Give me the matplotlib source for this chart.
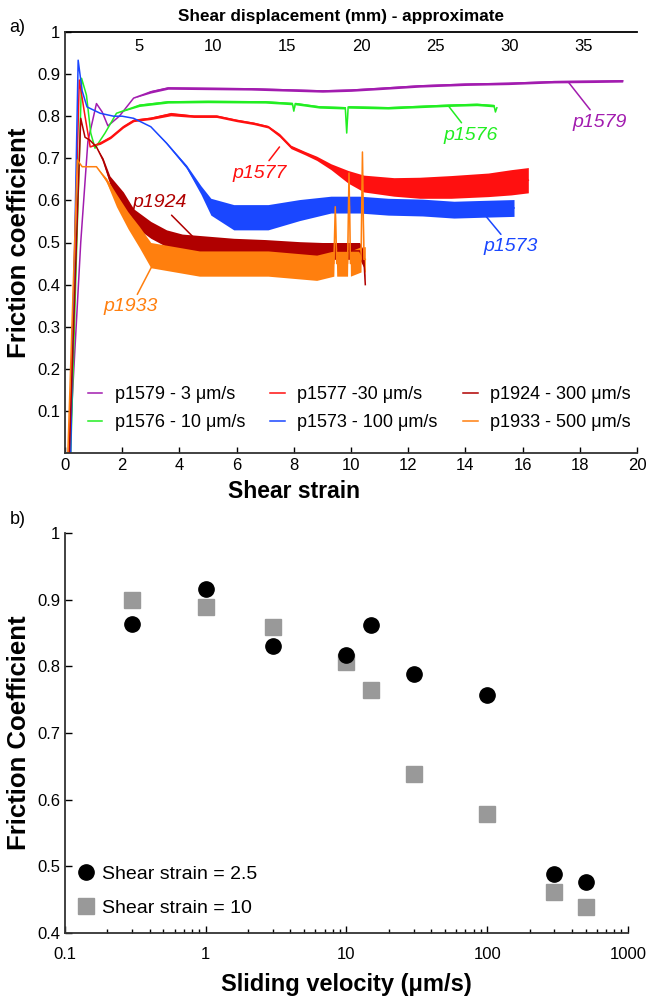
import numpy as np
import matplotlib
matplotlib.use('Agg')
import matplotlib.pyplot as plt

plt.rcParams['font.family'] = ['Liberation Sans', 'DejaVu Sans']

# ---- panel a: friction vs shear strain (x, y, noise half-width) ----
p1579_x = [0.15, 0.55, 0.8, 1.1, 1.3, 1.5, 1.9, 2.4, 3.0, 3.6, 5.0, 6.5, 8.0, 9.0, 10.0, 11.0, 12.4, 14.0, 15.5, 17.1, 18.5, 19.5]
p1579_y = [0, 0.50, 0.74, 0.83, 0.81, 0.777, 0.80, 0.843, 0.858, 0.867, 0.866, 0.865, 0.862, 0.86, 0.862, 0.866, 0.872, 0.876, 0.878, 0.882, 0.883, 0.884]
p1579_s = [0, 0, 0, 0, 0, 0, 0, 0, 0.003, 0.003, 0.003, 0.003, 0.003, 0.003, 0.003, 0.003, 0.003, 0.003, 0.003, 0.003, 0.003, 0.003]

p1576_x = [0.2, 0.58, 0.75, 0.9, 1.05, 1.4, 1.8, 2.6, 3.6, 5.0, 7.0, 7.95, 8.0, 8.05, 8.9, 9.8, 9.85, 9.9, 11.3, 13.4, 14.4, 15.0, 15.05, 15.1]
p1576_y = [0, 0.89, 0.85, 0.76, 0.724, 0.76, 0.807, 0.826, 0.834, 0.835, 0.834, 0.83, 0.812, 0.83, 0.822, 0.82, 0.76, 0.822, 0.82, 0.826, 0.828, 0.825, 0.81, 0.82]
p1576_s = [0, 0, 0, 0, 0, 0, 0, 0.003, 0.003, 0.003, 0.003, 0.003, 0, 0.003, 0.003, 0.003, 0, 0.003, 0.003, 0.003, 0.003, 0.003, 0, 0]

p1577_x = [0.15, 0.5, 0.7, 0.88, 1.23, 1.6, 2.04, 2.4, 3.0, 3.7, 4.5, 5.3, 6.0, 6.6, 7.1, 7.5, 7.9, 8.4, 8.8, 9.3, 9.9, 10.45, 11.5, 12.4, 13.5, 14.8, 15.6, 16.2]
p1577_y = [0, 0.886, 0.80, 0.727, 0.736, 0.75, 0.775, 0.79, 0.795, 0.805, 0.80, 0.80, 0.79, 0.783, 0.775, 0.755, 0.727, 0.712, 0.70, 0.68, 0.656, 0.64, 0.632, 0.63, 0.632, 0.637, 0.643, 0.648]
p1577_s = [0, 0, 0, 0, 0.003, 0.003, 0.003, 0.003, 0.003, 0.004, 0.003, 0.003, 0.003, 0.003, 0.003, 0.004, 0.004, 0.004, 0.005, 0.007, 0.015, 0.02, 0.022, 0.025, 0.027, 0.028, 0.03, 0.03]

p1573_x = [0.2, 0.46, 0.6, 0.77, 1.23, 1.7, 2.0, 2.4, 3.0, 3.55, 4.25, 4.75, 5.1, 5.9, 7.1, 8.2, 9.3, 10.3, 11.3, 12.5, 13.6, 14.6, 15.7]
p1573_y = [0, 0.933, 0.86, 0.822, 0.807, 0.80, 0.80, 0.795, 0.775, 0.736, 0.68, 0.625, 0.585, 0.56, 0.56, 0.577, 0.59, 0.59, 0.585, 0.583, 0.578, 0.58, 0.582]
p1573_s = [0, 0, 0, 0, 0, 0, 0, 0, 0, 0.002, 0.004, 0.01, 0.02, 0.03, 0.03, 0.025, 0.02, 0.02, 0.02, 0.02, 0.02, 0.02, 0.02]

p1924_x = [0.15, 0.55, 0.7, 0.87, 1.1, 1.33, 1.57, 2.04, 2.4, 3.0, 3.55, 4.1, 5.0, 5.9, 7.0, 8.2, 9.0, 9.6, 10.0, 10.3, 10.45, 10.5]
p1924_y = [0, 0.795, 0.75, 0.743, 0.727, 0.696, 0.648, 0.60, 0.56, 0.53, 0.51, 0.50, 0.495, 0.49, 0.487, 0.482, 0.48, 0.48, 0.48, 0.48, 0.46, 0.40]
p1924_s = [0, 0, 0, 0, 0, 0.005, 0.01, 0.02, 0.02, 0.02, 0.02, 0.02, 0.02, 0.02, 0.02, 0.02, 0.02, 0.02, 0.02, 0.02, 0.02, 0]

p1933_x = [0.1, 0.43, 0.6, 0.87, 1.1, 1.45, 1.8, 2.2, 2.6, 3.0, 4.7, 7.1, 8.8, 9.4, 9.45, 9.5, 9.88, 9.93, 9.98, 10.35, 10.4, 10.45, 10.5]
p1933_y = [0, 0.696, 0.68, 0.68, 0.68, 0.648, 0.60, 0.553, 0.513, 0.47, 0.45, 0.45, 0.44, 0.45, 0.585, 0.45, 0.45, 0.665, 0.45, 0.46, 0.715, 0.46, 0.46]
p1933_s = [0, 0, 0, 0, 0, 0.005, 0.015, 0.02, 0.025, 0.03, 0.03, 0.03, 0.03, 0.03, 0, 0.03, 0.03, 0, 0.03, 0.03, 0, 0.03, 0.03]

curves = [
    ('p1579 - 3 \u03bcm/s', '#a21caf', p1579_x, p1579_y, p1579_s),
    ('p1576 - 10 \u03bcm/s', '#22ee22', p1576_x, p1576_y, p1576_s),
    ('p1577 -30 \u03bcm/s', '#ff1010', p1577_x, p1577_y, p1577_s),
    ('p1573 - 100 \u03bcm/s', '#1a47ff', p1573_x, p1573_y, p1573_s),
    ('p1924 - 300 \u03bcm/s', '#b00000', p1924_x, p1924_y, p1924_s),
    ('p1933 - 500 \u03bcm/s', '#ff7f0e', p1933_x, p1933_y, p1933_s),
]
strain_to_mm = 1.93

# ---- panel b: friction vs sliding velocity ----
vel = [0.3, 1, 3, 10, 15, 30, 100, 300, 500]
mu_25 = [0.864, 0.916, 0.831, 0.817, 0.862, 0.788, 0.757, 0.488, 0.477]
mu_10 = [0.900, 0.889, 0.859, 0.806, 0.764, 0.638, 0.578, 0.462, 0.439]

fig = plt.figure(figsize=(6.5, 10), dpi=100)

# ================= panel a =================
ax = fig.add_axes([0.1, 0.547, 0.88, 0.421])
for label, c, x, y, s in curves:
    x = np.array(x); y = np.array(y); s = np.array(s)
    ax.fill_between(x, y - s, y + s, color=c, lw=0)
    ax.plot(x, y, color=c, lw=1.1, label=label)

ax.set_xlim(0, 20)
ax.set_ylim(0, 1)
ax.set_xticks(range(0, 21, 2))
ax.set_yticks([0.1, 0.2, 0.3, 0.4, 0.5, 0.6, 0.7, 0.8, 0.9, 1.0])
ax.set_yticklabels(['0.1', '0.2', '0.3', '0.4', '0.5', '0.6', '0.7', '0.8', '0.9', '1'])
ax.tick_params(direction='in', labelsize=12, length=4, width=1)
ax.spines['right'].set_visible(False)
ax.spines['top'].set_visible(False)
for sp in ['left', 'bottom']:
    ax.spines[sp].set_linewidth(1.3)
    ax.spines[sp].set_color('#333333')
ax.set_xlabel('Shear strain', fontsize=16.5, fontweight='bold')
ax.xaxis.set_label_coords(0.40, -0.065)
ax.set_ylabel('Friction coefficient', fontsize=18.5, fontweight='bold')
ax.yaxis.set_label_coords(-0.06, 0.5)

sec = ax.secondary_xaxis('top', functions=(lambda s: s * strain_to_mm, lambda d: d / strain_to_mm))
sec.set_xticks([5, 10, 15, 20, 25, 30, 35])
sec.tick_params(direction='in', length=0, labelsize=12, pad=-16)
sec.spines['top'].set_linewidth(1.3)
ax.text(0.483, 1.036, 'Shear displacement (mm) - approximate', transform=ax.transAxes,
        ha='center', va='center', fontsize=12.3, fontweight='bold')

ann = [
    ('p1579', '#a21caf', (17.6, 0.881), (18.7, 0.786)),
    ('p1576', '#22ee22', (13.4, 0.825), (14.2, 0.755)),
    ('p1577', '#ff1010', (7.5, 0.727), (6.8, 0.665)),
    ('p1924', '#b00000', (4.6, 0.505), (3.3, 0.594)),
    ('p1933', '#ff7f0e', (3.05, 0.445), (2.3, 0.347)),
    ('p1573', '#1a47ff', (14.6, 0.572), (15.6, 0.49)),
]
for t, c, xy, xyt in ann:
    ax.annotate(t, xy=xy, xytext=xyt, color=c, fontsize=14, style='italic',
                ha='center', va='center',
                arrowprops=dict(arrowstyle='-', color=c, lw=1.1, shrinkA=1, shrinkB=0))

ax.legend(loc='lower left', bbox_to_anchor=(0.027, 0.035), ncol=3, frameon=False,
          fontsize=13, handlelength=0.8, handletextpad=0.7, columnspacing=1.4,
          labelspacing=0.6, borderaxespad=0)
fig.text(0.015, 0.968, 'a)', fontsize=13)

# ================= panel b =================
bx = fig.add_axes([0.1, 0.067, 0.866, 0.40])
bx.plot(vel, mu_25, 'o', color='black', ms=11, label='Shear strain = 2.5', zorder=3)
bx.plot(vel, mu_10, 's', color='#999999', ms=11, label='Shear strain = 10', zorder=2)
bx.set_xscale('log')
bx.set_xlim(0.1, 1000)
bx.set_ylim(0.4, 1)
bx.set_xticks([0.1, 1, 10, 100, 1000])
bx.set_xticklabels(['0.1', '1', '10', '100', '1000'])
bx.set_yticks([0.4, 0.5, 0.6, 0.7, 0.8, 0.9, 1.0])
bx.set_yticklabels(['0.4', '0.5', '0.6', '0.7', '0.8', '0.9', '1'])
bx.tick_params(which='both', direction='in', labelsize=12, width=1)
bx.tick_params(which='major', length=5)
bx.tick_params(which='minor', length=3)
bx.tick_params(axis='x', pad=10)
bx.spines['right'].set_visible(False)
bx.spines['top'].set_visible(False)
for sp in ['left', 'bottom']:
    bx.spines[sp].set_linewidth(1.3)
    bx.spines[sp].set_color('#333333')
bx.set_xlabel('Sliding velocity (\u03bcm/s)', fontsize=17, fontweight='bold')
bx.xaxis.set_label_coords(0.5, -0.1)
bx.set_ylabel('Friction Coefficient', fontsize=18.5, fontweight='bold')
bx.yaxis.set_label_coords(-0.06, 0.5)
bx.legend(loc='lower left', bbox_to_anchor=(0.0, 0.02), frameon=False, fontsize=14,
          handletextpad=0.1, labelspacing=0.85, borderaxespad=0, handlelength=1.4)
fig.text(0.015, 0.476, 'b)', fontsize=13)

fig.savefig('out.png', dpi=100)
